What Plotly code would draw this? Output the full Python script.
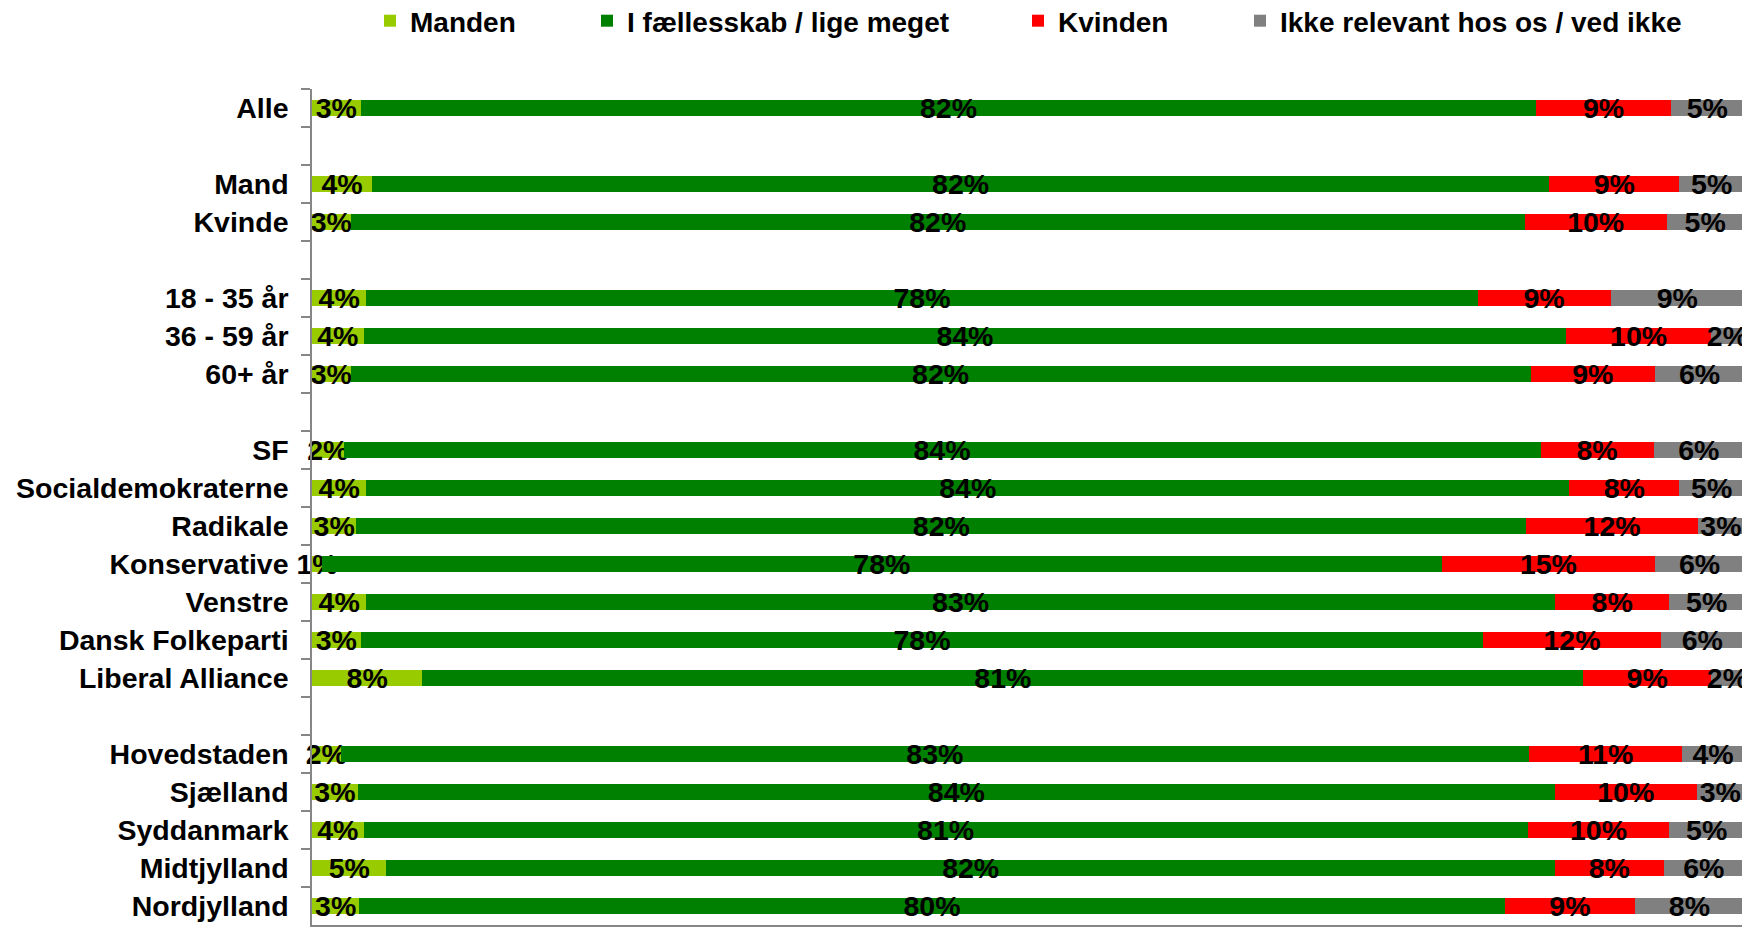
import plotly.graph_objects as go

# Top-to-bottom category order (whitespace entries are blank spacer rows)
categories = ["Alle", " ", "Mand", "Kvinde", "  ", "18 - 35 år", "36 - 59 år", "60+ år", "   ",
              "SF", "Socialdemokraterne", "Radikale", "Konservative", "Venstre",
              "Dansk Folkeparti", "Liberal Alliance", "    ",
              "Hovedstaden", "Sjælland", "Syddanmark", "Midtjylland", "Nordjylland"]

groups = ["Alle", "Mand", "Kvinde", "18 - 35 år", "36 - 59 år", "60+ år",
          "SF", "Socialdemokraterne", "Radikale", "Konservative", "Venstre",
          "Dansk Folkeparti", "Liberal Alliance",
          "Hovedstaden", "Sjælland", "Syddanmark", "Midtjylland", "Nordjylland"]

manden = [3.4, 4.2, 2.7, 3.8, 3.6, 2.7,
          2.2, 3.8, 3.1, 0.7, 3.8, 3.4, 7.7,
          2.0, 3.2, 3.6, 5.2, 3.3]
faelles = [82.1, 82.2, 82.0, 77.6, 84.0, 82.4,
           83.6, 84.0, 81.7, 78.2, 83.0, 78.4, 81.1,
           83.0, 83.6, 81.3, 81.6, 80.0]
kvinden = [9.4, 9.1, 9.9, 9.3, 10.1, 8.7,
           7.9, 7.7, 12.0, 14.9, 8.0, 12.4, 8.9,
           10.7, 9.9, 9.9, 7.6, 9.1]
ikke = [5.1, 4.5, 5.4, 9.3, 2.3, 6.2,
        6.3, 4.5, 3.2, 6.2, 5.2, 5.8, 2.3,
        4.3, 3.3, 5.2, 5.6, 7.6]

series_names = ["Manden", "I fællesskab / lige meget", "Kvinden", "Ikke relevant hos os / ved ikke"]
series_values = [manden, faelles, kvinden, ikke]
series_colors = ["#99CC00", "#008000", "#FF0000", "#808080"]

FONT = "Liberation Sans, Arial, sans-serif"
LABEL_SIZE = 28.5
AXIS_SIZE = 28.5
LEGEND_SIZE = 28

# the page body adds an 8px offset; the figure is sized to fill the rest of the window
OFF = 8
W, H = 1750 - OFF, 927 - OFF

fig = go.Figure()
legend_ids = ["legend", "legend2", "legend3", "legend4"]
for name, vals, col, lg in zip(series_names, series_values, series_colors, legend_ids):
    fig.add_trace(go.Bar(
        y=groups, x=vals, name=name, orientation="h",
        marker=dict(color=col, line=dict(width=0)),
        texttemplate="%{x:.0f}%", textposition="inside",
        insidetextanchor="middle", textangle=0,
        textfont=dict(family=FONT, size=LABEL_SIZE, color="black", weight="bold"),
        cliponaxis=False, legend=lg, hoverinfo="skip",
    ))

# legend text start positions (page px) from reference
legend_text_x = [409, 626, 1057, 1279]
leg_common = dict(orientation="h", xref="container", yref="container", xanchor="left",
                  yanchor="middle", y=1 - (21 - OFF) / H, bgcolor="rgba(0,0,0,0)", borderwidth=0,
                  font=dict(family=FONT, size=LEGEND_SIZE, color="black", weight="bold"),
                  itemwidth=30)
legends = {}
for lg, tx in zip(legend_ids, legend_text_x):
    legends[lg] = dict(leg_common, x=(tx - OFF - 39) / W)

fig.update_layout(
    width=W, height=H,
    barmode="stack", bargap=0.59,
    plot_bgcolor="white", paper_bgcolor="white",
    margin=dict(l=304, r=6, t=81, b=2, autoexpand=False),
    uniformtext=dict(mode="show", minsize=LABEL_SIZE),
    showlegend=True,
    **legends,
)
fig.update_yaxes(
    type="category", categoryorder="array", categoryarray=categories,
    autorange="reversed", tickson="boundaries", ticks="outside", ticklen=9,
    tickcolor="#868686", tickwidth=1.5, showline=True, linecolor="#868686", linewidth=1.5,
    showgrid=False, zeroline=False, ticklabelstandoff=16, automargin=False,
    tickfont=dict(family=FONT, size=AXIS_SIZE, color="black", weight="bold"),
)
fig.update_xaxes(
    range=[0, 100.01], dtick=10, tick0=0, ticks="outside", ticklen=8,
    tickcolor="#868686", tickwidth=1.5, showline=True, linecolor="#868686", linewidth=1.5,
    showgrid=False, zeroline=False, showticklabels=False, automargin=False,
)

fig.write_html("out.html")
